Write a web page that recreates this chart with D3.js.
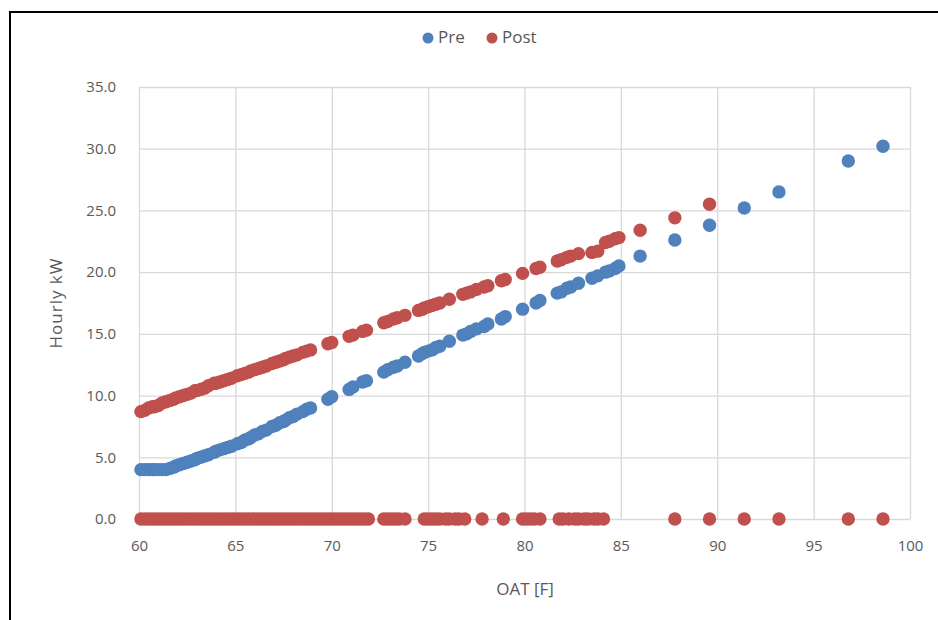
<!DOCTYPE html>
<html>
<head>
<meta charset="utf-8">
<script src="https://cdn.jsdelivr.net/npm/d3@7"></script>
<style>
body{margin:0;background:#fff;}
svg text{font-family:"Open Sans","Noto Sans",sans-serif;fill:#595959;}
</style>
</head>
<body>
<svg id="chart" width="938" height="620"></svg>
<script>
// data
var seriesNames = ["Pre","Post"];
var seriesColors = ["#4F81BD","#C0504D"];
var xTicks = [60,65,70,75,80,85,90,95,100];
var yTicks = [0,5,10,15,20,25,30,35];

var preOat = [60.1,60.3,60.5,60.7,60.8,61.0,61.2,61.4,61.6,61.8,61.9,62.1,62.3,62.5,62.7,62.9,63.0,63.2,63.4,63.6,
	63.9,64.0,64.2,64.4,64.6,64.8,65.1,65.3,65.5,65.7,65.8,66.0,66.2,66.4,66.6,66.9,67.1,67.3,67.5,67.6,
	67.8,68.0,68.2,68.5,68.7,68.9,69.8,70.0,70.9,71.1,71.6,71.8,72.7,72.9,73.2,73.4,73.8,74.5,74.7,74.8,
	75.0,75.2,75.4,75.6,76.1,76.8,77.0,77.2,77.5,77.9,78.1,78.8,79.0,79.9,80.6,80.8,81.7,81.9,82.2,82.4,
	82.8,83.5,83.8,84.2,84.4,84.7,84.9,86.0,87.8,89.6,91.4,93.2,96.8,98.6];
var preKw = [4.0,4.0,4.0,4.0,4.0,4.0,4.0,4.0,4.1,4.2,4.3,4.4,4.5,4.6,4.7,4.8,4.9,5.0,5.1,5.2,
	5.4,5.5,5.6,5.7,5.8,5.9,6.1,6.2,6.4,6.5,6.6,6.8,6.9,7.1,7.2,7.5,7.6,7.8,7.9,8.0,
	8.2,8.3,8.5,8.7,8.9,9.0,9.7,9.9,10.5,10.7,11.1,11.2,11.9,12.1,12.3,12.4,12.7,13.2,13.4,13.5,
	13.6,13.7,13.9,14.0,14.4,14.9,15.0,15.2,15.4,15.6,15.8,16.2,16.4,17.0,17.5,17.7,18.3,18.4,18.7,18.8,
	19.1,19.5,19.7,20.0,20.1,20.3,20.5,21.3,22.6,23.8,25.2,26.5,29.0,30.2];

var postOat = [60.1,60.3,60.5,60.7,60.8,61.0,61.2,61.4,61.6,61.8,61.9,62.1,62.3,62.5,62.7,62.9,63.0,63.2,63.4,63.6,
	63.9,64.0,64.2,64.4,64.6,64.8,65.1,65.3,65.5,65.7,65.8,66.0,66.2,66.4,66.6,66.9,67.1,67.3,67.5,67.6,
	67.8,68.0,68.2,68.5,68.7,68.9,69.8,70.0,70.9,71.1,71.6,71.8,72.7,72.9,73.2,73.4,73.8,74.5,74.7,74.8,
	75.0,75.2,75.4,75.6,76.1,76.8,77.0,77.2,77.5,77.9,78.1,78.8,79.0,79.9,80.6,80.8,81.7,81.9,82.2,82.4,
	82.8,83.5,83.8,84.2,84.4,84.7,84.9,86.0,87.8,89.6,
	// hours with the unit off
	60.1,60.3,60.5,60.7,60.9,61.1,61.3,61.5,61.7,61.9,62.1,62.3,62.5,62.7,62.9,63.1,63.3,63.5,63.7,63.9,
	64.1,64.3,64.5,64.7,64.9,65.1,65.3,65.5,65.7,65.9,66.1,66.3,66.5,66.7,66.9,67.1,67.3,67.5,67.7,67.9,
	68.1,68.3,68.5,68.7,68.9,69.1,69.3,69.5,69.7,69.9,70.1,70.3,70.5,70.7,70.9,71.1,71.3,71.5,71.7,71.9,
	72.7,72.9,73.1,73.3,73.5,73.8,74.8,75.0,75.2,75.4,75.6,75.9,76.1,76.4,76.6,76.9,77.8,78.9,79.9,80.1,80.3,80.5,80.8,
	81.8,82.0,82.3,82.6,82.8,83.1,83.3,83.6,83.8,84.1,87.8,89.6,91.4,93.2,96.8,98.6];
var postKw = [8.7,8.8,9.0,9.1,9.1,9.2,9.4,9.5,9.6,9.7,9.8,9.9,10.0,10.1,10.2,10.4,10.4,10.5,10.6,10.8,
	11.0,11.0,11.1,11.2,11.3,11.4,11.6,11.7,11.8,11.9,12.0,12.1,12.2,12.3,12.4,12.6,12.7,12.8,12.9,13.0,
	13.1,13.2,13.3,13.5,13.6,13.7,14.2,14.3,14.8,14.9,15.2,15.3,15.9,16.0,16.2,16.3,16.5,16.9,17.0,17.1,
	17.2,17.3,17.4,17.5,17.8,18.2,18.3,18.4,18.6,18.8,18.9,19.3,19.4,19.9,20.3,20.4,20.9,21.0,21.2,21.3,
	21.5,21.6,21.7,22.4,22.5,22.7,22.8,23.4,24.4,25.5,
	0,0,0,0,0,0,0,0,0,0,0,0,0,0,0,0,0,0,0,0,
	0,0,0,0,0,0,0,0,0,0,0,0,0,0,0,0,0,0,0,0,
	0,0,0,0,0,0,0,0,0,0,0,0,0,0,0,0,0,0,0,0,
	0,0,0,0,0,0,0,0,0,0,0,0,0,0,0,0,0,0,0,0,0,0,0,
	0,0,0,0,0,0,0,0,0,0,0,0,0,0,0,0];

var svg = d3.select("#chart");

// outer frame
svg.append("rect")
	.attr("x",10).attr("y",12).attr("width",940).attr("height",620)
	.attr("fill","none").attr("stroke","#000").attr("stroke-width",2);

var x = d3.scaleLinear().domain([60,100]).range([139,910]);
var y = d3.scaleLinear().domain([0,35]).range([519,87]);

// grid
svg.append("g").selectAll("line").data(yTicks).enter().append("line")
	.attr("x1",x(60)).attr("x2",x(100))
	.attr("y1",function(d){return y(d)+0.5}).attr("y2",function(d){return y(d)+0.5})
	.attr("stroke","#d9d9d9").attr("stroke-width",1.3);
svg.append("g").selectAll("line").data(xTicks).enter().append("line")
	.attr("x1",function(d){return x(d)+0.5}).attr("x2",function(d){return x(d)+0.5})
	.attr("y1",y(0)).attr("y2",y(35))
	.attr("stroke","#d9d9d9").attr("stroke-width",1.3);

// axes
var xAxis = svg.append("g").attr("transform","translate(0,"+y(0)+")")
	.call(d3.axisBottom(x).tickValues(xTicks).tickSize(0).tickPadding(21));
var yAxis = svg.append("g").attr("transform","translate("+x(60)+",0)")
	.call(d3.axisLeft(y).tickValues(yTicks).tickSize(0).tickPadding(23).tickFormat(d3.format(".1f")));
[xAxis,yAxis].forEach(function(a){
	a.select(".domain").remove();
	a.selectAll("text").attr("font-size","15px").attr("fill","#595959")
		.style("font-family","'Open Sans','Noto Sans',sans-serif");
});

// axis titles
svg.append("text").attr("x",525).attr("y",595).attr("text-anchor","middle")
	.attr("font-size","17px").text("OAT [F]");
svg.append("text").attr("transform","translate(62,303) rotate(-90)").attr("text-anchor","middle")
	.attr("font-size","17px").attr("letter-spacing","1px").text("Hourly kW");

// points
var preData = preOat.map(function(d,i){return {x:d,y:preKw[i]}});
var postData = postOat.map(function(d,i){return {x:d,y:postKw[i]}});
[preData,postData].forEach(function(data,k){
	svg.append("g").selectAll("circle").data(data).enter().append("circle")
		.attr("cx",function(d){return x(d.x)})
		.attr("cy",function(d){return y(d.y)})
		.attr("r",6.7)
		.attr("fill",seriesColors[k]);
});

// legend
var legend = svg.append("g").selectAll("g").data(seriesNames).enter().append("g")
	.attr("transform",function(d,i){return "translate("+(428+i*64)+",38)"});
legend.append("circle").attr("r",5.5).attr("fill",function(d,i){return seriesColors[i]});
legend.append("text").attr("x",10).attr("y",5).attr("font-size","17px").text(function(d){return d});
</script>
</body>
</html>
